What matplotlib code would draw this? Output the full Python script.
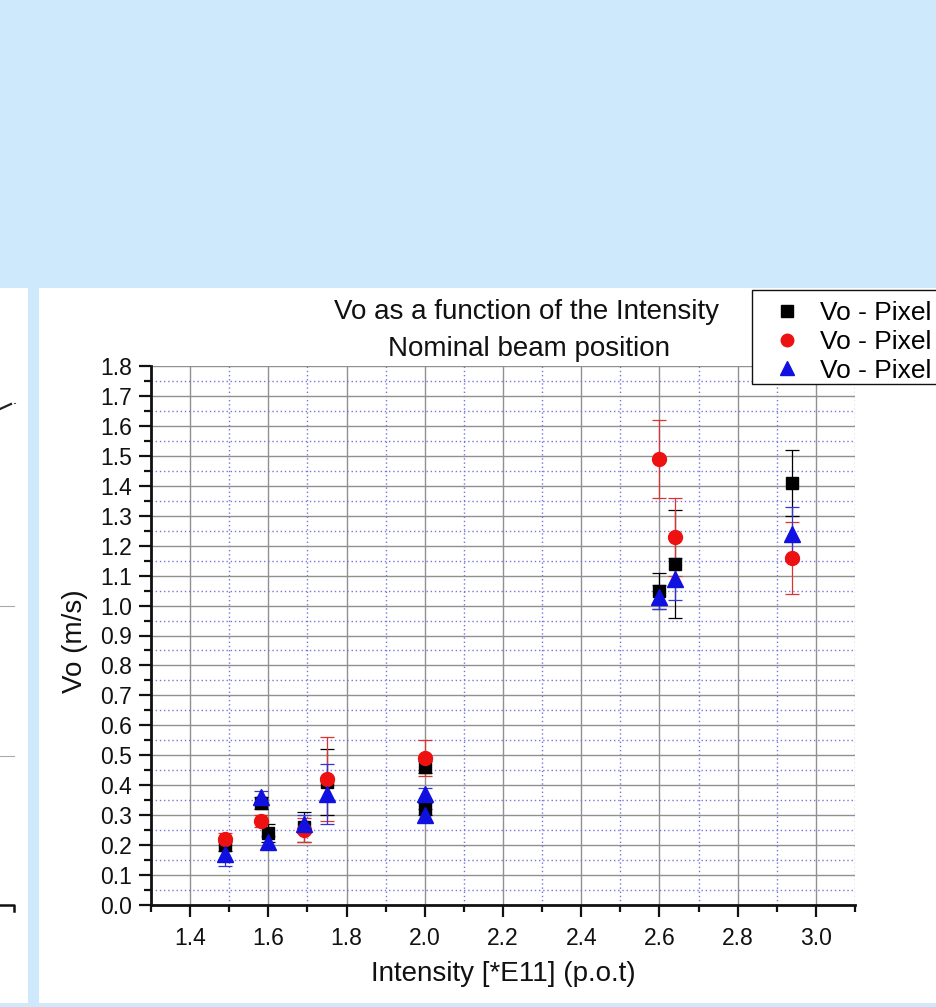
import matplotlib
matplotlib.use("Agg")
import matplotlib.pyplot as plt
from matplotlib.patches import Rectangle
from matplotlib.lines import Line2D
from matplotlib.ticker import MultipleLocator, FormatStrFormatter

plt.rcParams["font.family"] = ["Liberation Sans", "DejaVu Sans"]

# Intensity [*E11] (p.o.t) of each measurement
intensity = [1.49, 1.58, 1.60, 1.69, 1.75, 2.00, 2.00, 2.60, 2.64, 2.94]

# Vo - Pixel 1
vo_pix1 = [0.20, 0.34, 0.24, 0.26, 0.41, 0.46, 0.32, 1.05, 1.14, 1.41]
err_pix1 = [0.02, 0.02, 0.03, 0.05, 0.11, 0.02, 0.02, 0.06, 0.18, 0.11]

# Vo - Pixel 2
intensity_pix2 = [1.49, 1.58, 1.69, 1.75, 2.00, 2.60, 2.64, 2.94]
vo_pix2 = [0.22, 0.28, 0.25, 0.42, 0.49, 1.49, 1.23, 1.16]
err_pix2 = [0.02, 0.02, 0.04, 0.14, 0.06, 0.13, 0.13, 0.12]

# Vo - Pixel 3
vo_pix3 = [0.17, 0.36, 0.21, 0.27, 0.37, 0.37, 0.30, 1.03, 1.09, 1.24]
err_pix3 = [0.04, 0.02, 0.02, 0.03, 0.10, 0.02, 0.02, 0.04, 0.07, 0.09]

series_labels = ["Vo - Pixel 1", "Vo - Pixel 2", "Vo - Pixel 3"]

W, H = 936, 1007
fig = plt.figure(figsize=(W / 100, H / 100), dpi=100)
fig.patch.set_facecolor("#cde9fb")


def fx(px):
    return px / W


def fy(py):
    return 1 - py / H


# white slide panels
fig.patches.append(Rectangle((fx(0), fy(1003)), fx(28), (1003 - 288) / H,
                             transform=fig.transFigure, facecolor="white",
                             edgecolor="none", zorder=-5))
fig.patches.append(Rectangle((fx(39), fy(1003)), fx(W - 39), (1003 - 288) / H,
                             transform=fig.transFigure, facecolor="white",
                             edgecolor="none", zorder=-5))

# edge of the neighbouring panel on the left
side = fig.add_axes([0, fy(1003), fx(28), (1003 - 288) / H])
side.set_xlim(0, 28)
side.set_ylim(1003, 288)
side.axis("off")
side.plot([0, 11], [409, 404], color="#222222", lw=1.6)
side.plot([14, 15], [403, 403], color="#555555", lw=0.8)
side.plot([0, 14], [606, 606], color="#aaaaaa", lw=0.8)
side.plot([0, 14], [756, 756], color="#aaaaaa", lw=0.8)
side.plot([0, 14, 14], [905, 905, 911], color="#111111", lw=1.8)

# main chart
x0, x1, ytop, ybot = 151, 855, 366, 905
ax = fig.add_axes([fx(x0), fy(ybot), (x1 - x0) / W, (ybot - ytop) / H])
ax.set_facecolor("white")
ax.set_xlim(1.3, 3.1)
ax.set_ylim(0.0, 1.8)

ax.xaxis.set_major_locator(MultipleLocator(0.2))
ax.xaxis.set_minor_locator(MultipleLocator(0.1))
ax.yaxis.set_major_locator(MultipleLocator(0.1))
ax.yaxis.set_minor_locator(MultipleLocator(0.05))
ax.xaxis.set_major_formatter(FormatStrFormatter("%.1f"))
ax.yaxis.set_major_formatter(FormatStrFormatter("%.1f"))

ax.grid(True, which="major", color="#909090", lw=1.0, ls="-")
ax.grid(True, which="minor", color="#7474dc", lw=1.0, ls=(0, (1, 2)))
ax.set_axisbelow(True)

for s in ("top", "right"):
    ax.spines[s].set_visible(False)
for s in ("left", "bottom"):
    ax.spines[s].set_linewidth(2.0)
    ax.spines[s].set_color("#111111")

ax.tick_params(which="major", direction="out", length=8.5, width=1.6,
               labelsize=16.5, colors="#111111", pad=5)
ax.tick_params(which="minor", direction="out", length=5, width=1.6,
               colors="#111111")
ax.tick_params(axis="x", which="major", pad=7)

ekw = dict(ls="none", elinewidth=0.9, capsize=5, capthick=0.9)
ax.errorbar(intensity, vo_pix1, yerr=err_pix1, fmt="s", ms=9,
            color="black", mec="black", **ekw)
ax.errorbar(intensity_pix2, vo_pix2, yerr=err_pix2, fmt="o", ms=10,
            color="#ee1111", mec="#ee1111", ecolor="#dd3333", **ekw)
ax.errorbar(intensity, vo_pix3, yerr=err_pix3, fmt="^", ms=11,
            color="#1010e0", mec="#1010e0", ecolor="#3333dd", **ekw)

ax.set_xlabel("Intensity [*E11] (p.o.t)", fontsize=20, color="#111111")
ax.xaxis.set_label_coords(0.5, (ybot - 961) / (ybot - ytop))
ax.set_ylabel("Vo (m/s)", fontsize=20, color="#111111")
ax.yaxis.set_label_coords((88 - x0) / (x1 - x0), 0.49)

fig.text(fx(526), fy(312), "Vo as a function of the Intensity",
         fontsize=20, ha="center", va="center", color="#111111")
fig.text(fx(529), fy(349), "Nominal beam position",
         fontsize=20, ha="center", va="center", color="#111111")

# legend: frame drawn as a patch, entries placed without their own frame
fig.patches.append(Rectangle((fx(752), fy(384)), fx(960 - 752), (384 - 290) / H,
                             transform=fig.transFigure, facecolor="white",
                             edgecolor="#111111", lw=1.0, zorder=4))
handles = [
    Line2D([], [], ls="none", marker="s", ms=8, color="black"),
    Line2D([], [], ls="none", marker="o", ms=9, color="#ee1111"),
    Line2D([], [], ls="none", marker="^", ms=10, color="#1010e0"),
]
leg = fig.legend(handles, series_labels, loc="upper left",
                 bbox_to_anchor=(fx(774), fy(301)), fontsize=19,
                 frameon=False, borderpad=0, labelspacing=0.18,
                 handlelength=1.0, handletextpad=0.75, borderaxespad=0)
leg.set_zorder(5)

fig.savefig("out.png", dpi=100, facecolor=fig.get_facecolor())
